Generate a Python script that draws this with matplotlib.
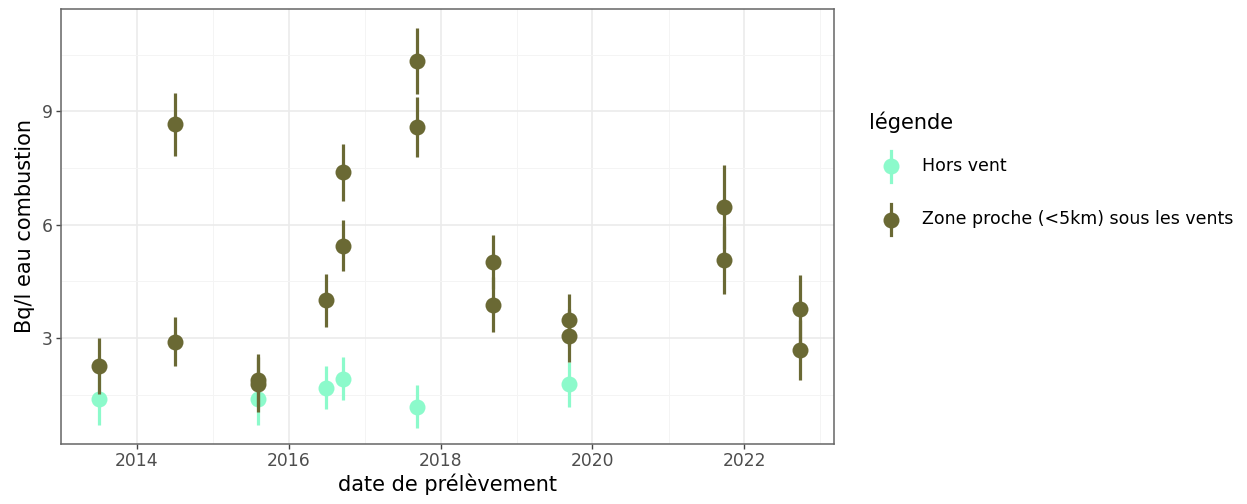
import numpy as np
import pandas as pd
import matplotlib
matplotlib.use("Agg")
import matplotlib.pyplot as plt
import matplotlib.dates as mdates
from matplotlib.lines import Line2D
from matplotlib.ticker import MultipleLocator

plt.rcParams['font.family'] = ['DejaVu Sans']

# Sampling campaigns: "Zone proche (<5km) sous les vents"
zone_dates = ["2013-07-05", "2014-07-01", "2014-07-01", "2015-08-05", "2015-08-05",
              "2016-07-01", "2016-09-20", "2016-09-20", "2017-09-10", "2017-09-10",
              "2018-09-10", "2018-09-10", "2019-09-10", "2019-09-10",
              "2021-09-25", "2021-09-25", "2022-09-25", "2022-09-25"]
zone_values = [2.27, 8.66, 2.91, 1.89, 1.78, 4.00, 7.39, 5.45, 10.33, 8.59,
               5.01, 3.89, 3.48, 3.07, 6.47, 5.08, 3.78, 2.68]
zone_errors = [0.74, 0.84, 0.65, 0.68, 0.73, 0.70, 0.75, 0.68, 0.88, 0.80,
               0.72, 0.72, 0.70, 0.70, 1.12, 0.90, 0.89, 0.79]

# Sampling campaigns: "Hors vent"
hors_dates = ["2013-07-05", "2015-08-05", "2016-07-01", "2016-09-20", "2017-09-10", "2019-09-10"]
hors_values = [1.38, 1.38, 1.69, 1.93, 1.19, 1.78]
hors_errors = [0.68, 0.68, 0.57, 0.56, 0.57, 0.59]

series_labels = ["Hors vent", "Zone proche (<5km) sous les vents"]
series_colors = ["#8CFACB", "#6A6934"]

W, H = 1247, 504
fig = plt.figure(figsize=(W / 100, H / 100), dpi=100)
ax = fig.add_axes([61 / W, 1 - 444 / H, (834 - 61) / W, (444 - 9) / H])

for dates, vals, errs, col, z in [
        (hors_dates, hors_values, hors_errors, series_colors[0], 3),
        (zone_dates, zone_values, zone_errors, series_colors[1], 4)]:
    x = mdates.date2num(pd.to_datetime(dates))
    ax.errorbar(x, vals, yerr=errs, fmt='o', color=col, ecolor=col,
                elinewidth=2.3, markersize=11.5, markeredgewidth=0, capsize=0, zorder=z)

ax.set_xlim(mdates.date2num(pd.Timestamp("2013-01-20")), mdates.date2num(pd.Timestamp("2023-03-08")))
ax.set_ylim(0.2, 11.71)

major_years = [mdates.date2num(pd.Timestamp(f"{y}-01-01")) for y in range(2014, 2023, 2)]
minor_years = [mdates.date2num(pd.Timestamp(f"{y}-01-01")) for y in range(2013, 2024, 2)]
ax.set_xticks(major_years)
ax.set_xticks(minor_years, minor=True)
ax.xaxis.set_major_formatter(mdates.DateFormatter("%Y"))
ax.yaxis.set_major_locator(MultipleLocator(3))
ax.yaxis.set_minor_locator(MultipleLocator(1.5))

ax.grid(which='major', color='#EBEBEB', linewidth=1.2, zorder=0)
ax.grid(which='minor', color='#F4F4F4', linewidth=0.7, zorder=0)
ax.set_axisbelow(True)

for s in ax.spines.values():
    s.set_color('#666666')
    s.set_linewidth(1.1)

ax.tick_params(which='major', length=3.5, width=1, color='#444444', labelcolor='#4D4D4D',
               labelsize=12.3, pad=2.5)
ax.tick_params(which='minor', length=0)

ax.set_xlabel("date de prélèvement", fontsize=15, color='black', labelpad=2)
ax.set_ylabel("Bq/l eau combustion", fontsize=15, color='black', labelpad=5)

# Legend, laid out in figure pixel coordinates
def fx(px):
    return px / W

def fy(py):
    return 1 - py / H

fig.text(fx(869), fy(122), "légende", fontsize=15, color='black', va='center', ha='left')
for lab, col, py in zip(series_labels, series_colors, [166.5, 219.5]):
    fig.add_artist(Line2D([fx(890.5), fx(890.5)], [fy(py - 15.5), fy(py + 15.5)],
                          color=col, linewidth=2.3, transform=fig.transFigure))
    fig.add_artist(Line2D([fx(890.5)], [fy(py)], marker='o', markersize=11.5,
                          markeredgewidth=0, color=col, linestyle='none',
                          transform=fig.transFigure))
    fig.text(fx(922), fy(py), lab, fontsize=12.5, color='black', va='center', ha='left')

fig.savefig("out.png", dpi=100)
